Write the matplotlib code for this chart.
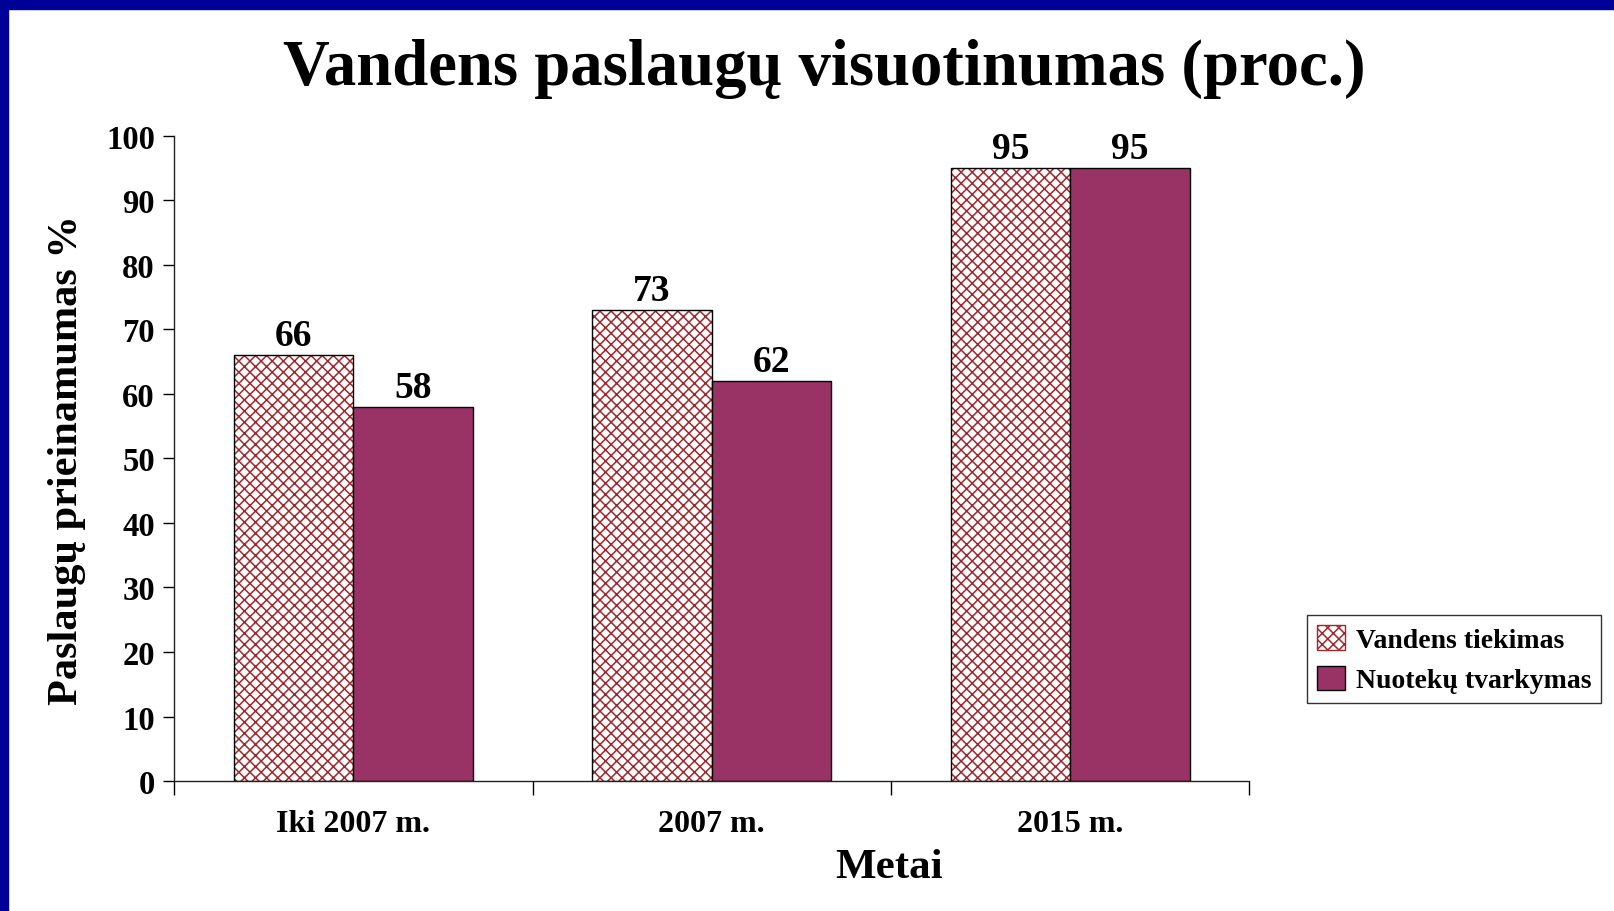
import numpy as np
import matplotlib
matplotlib.use("Agg")
import matplotlib.pyplot as plt
from matplotlib.patches import Rectangle, Patch

categories = ["Iki 2007 m.", "2007 m.", "2015 m."]
water = [66, 73, 95]
sewage = [58, 62, 95]
labels = ["Vandens tiekimas", "Nuotekų tvarkymas"]

plt.rcParams['font.family'] = ['Liberation Serif', 'DejaVu Serif']
plt.rcParams['font.weight'] = 'bold'
plt.rcParams['hatch.linewidth'] = 1.1

fig = plt.figure(figsize=(16.14, 9.12), dpi=100)
ax = fig.add_axes([0.108, 0.1425, 0.666, 0.7075])

x = np.arange(len(categories))
w = 1 / 3
hatch_col = '#A0282D'

# hatched bars: red hatch, then black outline on top
ax.bar(x - w / 2, water, w, color='white', edgecolor=hatch_col, hatch='xxx', linewidth=0)
ax.bar(x - w / 2, water, w, fill=False, edgecolor='black', linewidth=1)
ax.bar(x + w / 2, sewage, w, color='#993366', edgecolor='black', linewidth=1)

for xi, v in zip(x, water):
    ax.text(xi - w / 2, v + 0.3, str(v), ha='center', va='bottom', fontsize=27, fontweight='bold')
for xi, v in zip(x, sewage):
    ax.text(xi + w / 2, v + 0.3, str(v), ha='center', va='bottom', fontsize=27, fontweight='bold')

ax.set_xlim(-0.5, 2.5)
ax.set_ylim(0, 100)
ax.set_yticks(np.arange(0, 101, 10))
ax.set_xticks([-0.5, 0.5, 1.5, 2.5])
ax.set_xticklabels([])
ax.set_xticks(x, minor=True)
ax.set_xticklabels(categories, minor=True, fontsize=23, fontweight='bold')
ax.tick_params(axis='x', which='minor', length=0, pad=20)
ax.tick_params(axis='x', which='major', length=10, width=1, direction='out')
ax.tick_params(axis='y', length=8, width=1, direction='out', labelsize=23.5, pad=6)
for lab in ax.get_yticklabels():
    lab.set_fontweight('bold')

for s in ['top', 'right']:
    ax.spines[s].set_visible(False)
for s in ['left', 'bottom']:
    ax.spines[s].set_color('#222222')
    ax.spines[s].set_linewidth(1)

fig.text(0.511, 0.924, "Vandens paslaugų visuotinumas (proc.)", ha='center', va='center',
         fontsize=46.5, fontweight='bold')
fig.text(0.551, 0.048, "Metai", ha='center', va='center', fontsize=31, fontweight='bold')
fig.text(0.0415, 0.496, "Paslaugų prieinamumas %", ha='center', va='center', rotation=90,
         fontsize=30.5, fontweight='bold')

handles = [Patch(facecolor='white', edgecolor=hatch_col, hatch='xxx'),
           Patch(facecolor='#993366', edgecolor='black')]
leg = fig.legend(handles, labels, loc='center', bbox_to_anchor=(0.901, 0.276),
                 fontsize=20, frameon=True, fancybox=False, edgecolor='black',
                 handlelength=1.0, handleheight=1.0, handletextpad=0.4,
                 borderpad=0.35, labelspacing=0.45, borderaxespad=0)
leg.get_frame().set_linewidth(1)
for t in leg.get_texts():
    t.set_fontweight('bold')

# blue frame
fig.patches.append(Rectangle((0, 1 - 10 / 912), 1, 10 / 912, transform=fig.transFigure,
                             color='#000099', zorder=10))
fig.patches.append(Rectangle((0, 0), 8 / 1614, 1, transform=fig.transFigure,
                             color='#000099', zorder=10))

fig.savefig("out.png", dpi=100)
